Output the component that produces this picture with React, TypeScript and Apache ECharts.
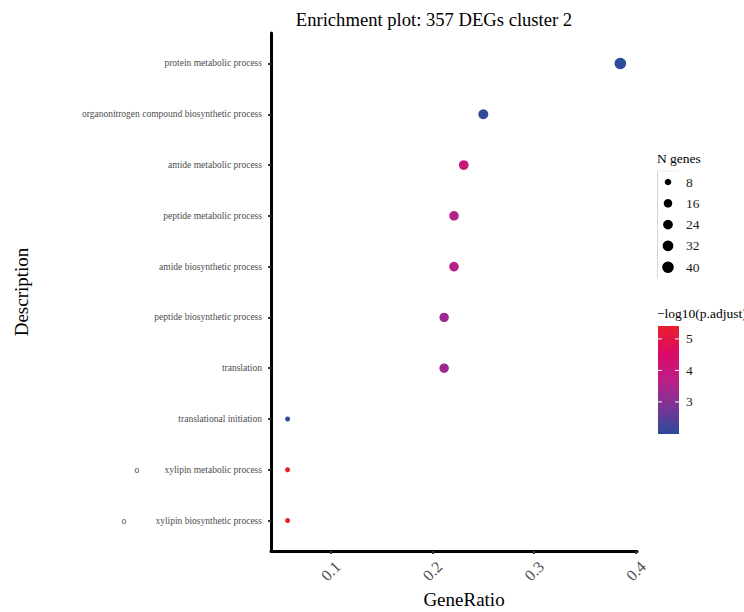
import React, { useEffect, useRef } from "react";
import * as echarts from "echarts";

// bottom -> top
const categories = [
  "xylipin biosynthetic process",
  "xylipin metabolic process",
  "translational initiation",
  "translation",
  "peptide biosynthetic process",
  "amide biosynthetic process",
  "peptide metabolic process",
  "amide metabolic process",
  "organonitrogen compound biosynthetic process",
  "protein metabolic process",
];
const geneRatio = [0.0577, 0.0577, 0.0577, 0.2115, 0.2115, 0.2212, 0.2212, 0.2308, 0.25, 0.3846];
const geneCounts = [6, 6, 6, 22, 22, 23, 23, 24, 26, 40];
const negLogPadj = [5.41, 5.41, 2.0, 3.3, 3.3, 3.6, 3.6, 4.0, 2.02, 1.98];

const xTicks = [0.1, 0.2, 0.3, 0.4];
const sizeLegend = [8, 16, 24, 32, 40];
const colorTicks = [5, 4, 3];

const FONT = "Liberation Serif, Times New Roman, serif";
const colorStops = ["#2b4b9b", "#7a3594", "#bd1f88", "#dc0a66", "#e8202b"];
const cMin = 1.98;
const cMax = 5.41;
const sizeOf = (n: number) => 5 + 6.5 * Math.sqrt(Math.max(0, n - 6) / 34);
const LBL = 9.5;
const LEG = 13.5;

export default function App() {
  const ref = useRef<HTMLDivElement>(null);
  useEffect(() => {
    if (!ref.current) return;
    const chart = echarts.init(ref.current, undefined, { renderer: "svg" });
    const data = categories.map((c, i) => [geneRatio[i], i + 1, geneCounts[i], negLogPadj[i]]);

    const graphics: any[] = [];
    graphics.push({
      type: "text",
      x: 434,
      y: 19,
      style: { text: "Enrichment plot: 357 DEGs cluster 2", font: `18.6px ${FONT}`, fill: "#000", align: "center", verticalAlign: "middle" },
    });
    graphics.push({
      type: "text",
      x: 464,
      y: 599,
      style: { text: "GeneRatio", font: `19px ${FONT}`, fill: "#000", align: "center", verticalAlign: "middle" },
    });
    graphics.push({
      type: "text",
      x: 21,
      y: 292,
      rotation: Math.PI / 2,
      style: { text: "Description", font: `19px ${FONT}`, fill: "#000", align: "center", verticalAlign: "middle" },
    });
    // size legend
    graphics.push({
      type: "text",
      x: 657,
      y: 158,
      style: { text: "N genes", font: `${LEG}px ${FONT}`, fill: "#000", align: "left", verticalAlign: "middle" },
    });
    graphics.push({ type: "line", shape: { x1: 657.5, y1: 171, x2: 657.5, y2: 278 }, style: { stroke: "#d6d6d6", lineWidth: 1 } });
    graphics.push({ type: "line", shape: { x1: 657.5, y1: 171, x2: 679, y2: 171 }, style: { stroke: "#ececec", lineWidth: 1 } });
    sizeLegend.forEach((v, i) => {
      const y = 182 + i * 21.3;
      graphics.push({ type: "circle", shape: { cx: 668, cy: y, r: sizeOf(v) / 2 }, style: { fill: "#000" } });
      graphics.push({
        type: "text",
        x: 686,
        y,
        style: { text: String(v), font: `${LEG}px ${FONT}`, fill: "#1a1a1a", align: "left", verticalAlign: "middle" },
      });
    });
    // color legend
    graphics.push({
      type: "text",
      x: 657,
      y: 313,
      style: { text: "\u2212log10(p.adjust)", font: `${LEG}px ${FONT}`, fill: "#000", align: "left", verticalAlign: "middle" },
    });
    const barTop = 326;
    const barBottom = 434;
    graphics.push({
      type: "rect",
      shape: { x: 658, y: barTop, width: 21, height: barBottom - barTop },
      style: {
        fill: new echarts.graphic.LinearGradient(
          0, 1, 0, 0,
          colorStops.map((c, i) => ({ offset: i / (colorStops.length - 1), color: c }))
        ),
      },
    });
    colorTicks.forEach((v) => {
      const y = barBottom - ((v - cMin) / (cMax - cMin)) * (barBottom - barTop);
      graphics.push({ type: "line", shape: { x1: 658, y1: y, x2: 662, y2: y }, style: { stroke: "#fff", lineWidth: 1 } });
      graphics.push({ type: "line", shape: { x1: 675, y1: y, x2: 679, y2: y }, style: { stroke: "#fff", lineWidth: 1 } });
      graphics.push({
        type: "text",
        x: 686,
        y,
        style: { text: String(v), font: `${LEG}px ${FONT}`, fill: "#1a1a1a", align: "left", verticalAlign: "middle" },
      });
    });

    chart.setOption({
      animation: false,
      grid: { left: 271, right: 107, top: 33, bottom: 61, containLabel: false },
      xAxis: {
        type: "value",
        min: 0.0414,
        max: 0.401,
        splitLine: { show: false },
        axisLine: { show: true, onZero: false, lineStyle: { color: "#000", width: 3 } },
        axisTick: { show: true, length: 3, customValues: xTicks, lineStyle: { color: "#333", width: 2 } },
        axisLabel: {
          customValues: xTicks,
          rotate: 45,
          align: "center",
          verticalAlign: "middle",
          margin: 20,
          fontFamily: FONT,
          fontSize: 16,
          color: "#4d4d4d",
          formatter: (v: number) => v.toFixed(1),
        },
      },
      yAxis: {
        type: "value",
        min: 0.4,
        max: 10.6,
        splitLine: { show: false },
        axisLine: { show: true, onZero: false, lineStyle: { color: "#000", width: 3 } },
        axisTick: { show: true, length: 3, customValues: categories.map((_, i) => i + 1), lineStyle: { color: "#333", width: 2 } },
        axisLabel: {
          customValues: categories.map((_, i) => i + 1),
          margin: 9,
          fontFamily: FONT,
          fontSize: LBL,
          color: "#4d4d4d",
          formatter: (v: number) => {
            const name = categories[Math.round(v) - 1] || "";
            if (name.startsWith("xylipin")) {
              const key = name.includes("biosynthetic") ? "ob" : "om";
              return `{${key}|o}{t|${name}}`;
            }
            return name;
          },
          rich: {
            om: { width: 30, fontFamily: FONT, fontSize: LBL, color: "#4d4d4d", align: "left" },
            ob: { width: 34, fontFamily: FONT, fontSize: LBL, color: "#4d4d4d", align: "left" },
            t: { fontFamily: FONT, fontSize: LBL, color: "#4d4d4d" },
          },
        },
      },
      visualMap: {
        show: false,
        type: "continuous",
        min: cMin,
        max: cMax,
        dimension: 3,
        seriesIndex: 0,
        inRange: { color: colorStops },
      },
      series: [
        {
          type: "scatter",
          data,
          symbol: "circle",
          symbolSize: (val: number[]) => sizeOf(val[2]),
          itemStyle: { opacity: 1 },
        },
      ],
      graphic: graphics,
    });
    return () => chart.dispose();
  }, []);
  return (
    <div
      ref={ref}
      style={{ position: "fixed", left: 0, top: 0, width: 744, height: 612, background: "#fff" }}
    />
  );
}
